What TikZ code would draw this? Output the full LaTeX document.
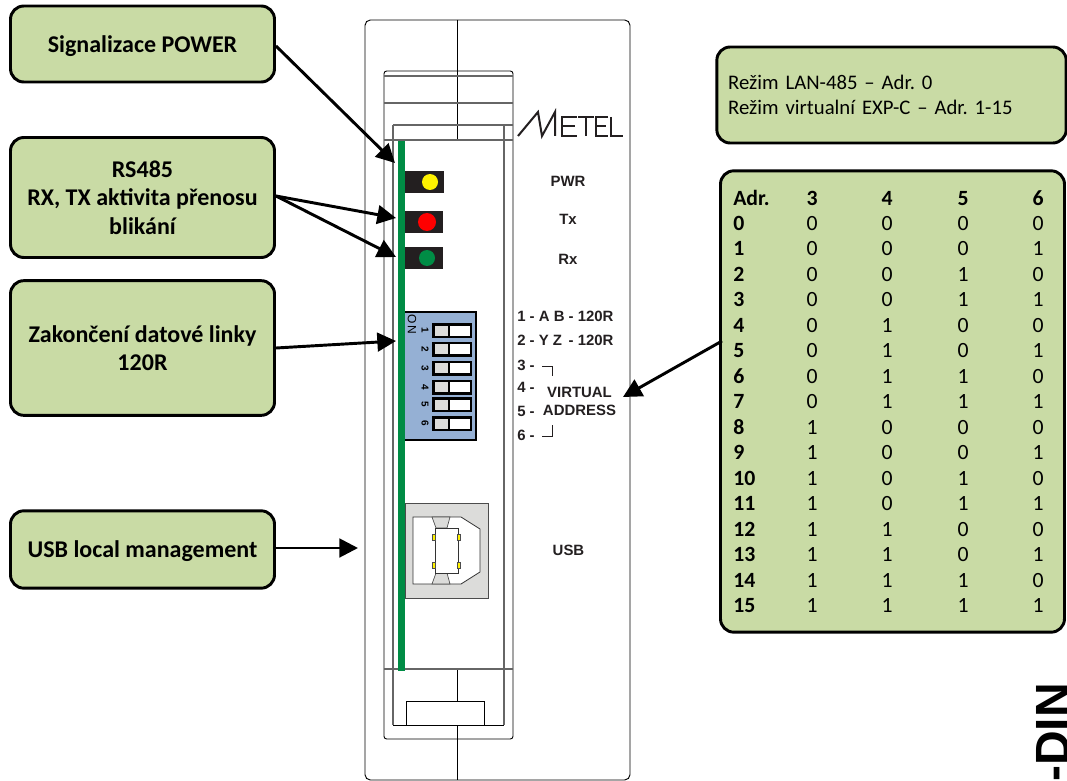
\documentclass[tikz,border=0pt]{standalone}
\usepackage{fontspec}
\setmainfont[Numbers=Lining]{Carlito}
\newfontfamily\labelfont{Liberation Sans}
\usetikzlibrary{arrows.meta}
\definecolor{boxgreen}{RGB}{201,219,165}
\definecolor{pcbgreen}{RGB}{0,140,69}
\definecolor{dipblue}{RGB}{149,176,212}
\definecolor{usbgrey}{RGB}{220,220,218}
\definecolor{ledblack}{RGB}{35,31,32}
\frenchspacing
\tikzset{
    infobox/.style={draw=black,line width=2.2pt,fill=boxgreen,rounded corners=10pt,align=center,font=\fontsize{18}{21.5}\selectfont\bfseries,inner sep=0pt},
    pointer/.style={line width=2.2pt,-{Triangle[length=14pt,width=14pt]}},
    panel/.style={font=\labelfont\bfseries\fontsize{11.2}{13}\selectfont,text=ledblack,inner sep=0pt},
    cell/.style={font=\fontsize{16.3}{16.3}\selectfont,inner sep=0pt,anchor=base},
    headcell/.style={font=\fontsize{16.3}{16.3}\selectfont\bfseries,inner sep=0pt,anchor=base},
    thin line/.style={draw=black,line width=0.7pt},
    grey line/.style={draw=black!60,line width=0.9pt}
}
\begin{document}
\begin{tikzpicture}[x=0.75pt,y=-0.75pt]
\useasboundingbox (0,0) rectangle (1067,781);
% housing
\draw[thin line,rounded corners=4pt] (365,20) rectangle (630,780);
\draw[thin line] (457,20) -- (457,140);
\draw[thin line] (457,669) -- (457,780);
\draw[thin line,rounded corners=2pt] (384,71) rectangle (513,739);
\draw[grey line] (384,76) -- (513,76);
\draw[grey line] (384,103) -- (513,103);
\draw[grey line] (393,125) -- (513,125);
\draw[grey line] (384,140) -- (513,140);
\draw[grey line] (393,125) -- (393,725);
\draw[grey line] (504,125) -- (504,725);
\draw[grey line] (384,669) -- (513,669);
\draw[thin line] (393,725) -- (504,725);
\draw[thin line,fill=white] (406,701) rectangle (484,725);
% board
\fill[pcbgreen] (398,141) rectangle (405,671);
% leds
\fill[ledblack] (405,171) rectangle (444,193);
\fill[ledblack] (405,211) rectangle (443,233);
\fill[ledblack] (405,247) rectangle (443,269);
\fill[yellow] (430,182) circle (8);
\fill[red] (427,222) circle (9);
\fill[pcbgreen] (427,258) circle (8);
% logo
\draw[line width=1.5pt,ledblack] (518,136) -- (538,112) -- (542,136) -- (555,112) -- (555,136);
\draw[line width=1.5pt,ledblack] (577,117) -- (562,117) -- (562,136) -- (577,136) (562,126) -- (575,126);
\draw[line width=1.5pt,ledblack] (578,117) -- (594,117) (586,117) -- (586,136);
\draw[line width=1.5pt,ledblack] (608,117) -- (596,117) -- (596,136) -- (608,136) (596,126) -- (606,126);
\draw[line width=1.5pt,ledblack] (611,117) -- (611,136) -- (623,136);
% dip switch
\draw[draw=black,line width=1.3pt,fill=dipblue] (405,312) -- (476,312) -- (476,440) -- (405,440);
\node[font=\labelfont\fontsize{9}{9}\selectfont,rotate=-90,inner sep=0pt] (dipon) at (412,324) {O\,N};
\foreach \n/\yy in {1/330.5,2/349,3/368,4/387,5/404.5,6/423.5} {
    \fill[black] (432,\yy-7.5) rectangle (472,\yy+7.5);
    \fill[usbgrey] (435,\yy-5) rectangle (448,\yy+5);
    \fill[white] (450,\yy-5) rectangle (470,\yy+5);
    \node[font=\labelfont\bfseries\fontsize{7.5}{7.5}\selectfont,rotate=-90,inner sep=0pt] (dip\n) at (425,\yy) {\n};
}
% usb
\draw[draw=black!70,fill=usbgrey,line width=0.6pt] (405,503) rectangle (488,598);
\draw[draw=black!80,fill=white,line width=0.6pt] (413,517) -- (461,517) -- (480,529) -- (480,572) -- (461,584) -- (413,584) -- cycle;
\draw[draw=black!70,fill=usbgrey,line width=0.5pt] (432,517) -- (450,517) -- (447,528) -- (436,528) -- cycle;
\draw[draw=black!70,fill=usbgrey,line width=0.5pt] (436,573) -- (447,573) -- (450,584) -- (432,584) -- cycle;
\draw[draw=black!80,fill=white,line width=0.6pt] (435,528) rectangle (458,573);
\foreach \px/\py in {434/537,459/537,434/565,459/565} {
    \draw[draw=black!70,fill=yellow,line width=0.3pt] (\px-1.5,\py-3) rectangle (\px+1.5,\py+3);
}
% panel labels
\node[panel] (pwr) at (568,181) {PWR};
\node[panel] (tx) at (568,219) {Tx};
\node[panel] (rx) at (568,259) {Rx};
\node[panel,anchor=west] (sw1) at (517,316) {1 - A B - 120R};
\node[panel,anchor=west] (sw2) at (517,340) {2 - Y Z\, - 120R};
\node[panel,anchor=west] (sw3) at (517,365) {3 -};
\node[panel,anchor=west] (sw4) at (517,387) {4 -};
\node[panel,anchor=west] (sw5) at (517,411) {5 -};
\node[panel,anchor=west] (sw6) at (517,435) {6 -};
\node[panel] (virtual) at (579.5,392) {VIRTUAL};
\node[panel] (address) at (579.5,410) {ADDRESS};
\node[panel] (usb) at (568.5,550) {USB};
\draw[ledblack,line width=0.5pt] (542,366) -- (552,366) -- (552,376);
\draw[ledblack,line width=0.5pt] (542,436) -- (552,436) -- (552,425);
% callouts
\node[infobox,text height=16pt,minimum width=198pt,minimum height=57pt] (power) at (142.5,44) {Signalizace POWER};
\node[infobox,minimum width=198pt,minimum height=90pt] (rs) at (142.5,197.5) {RS485\\RX, TX aktivita přenosu\\blikání};
\node[infobox,minimum width=198pt,minimum height=101pt] (term) at (142.5,348) {Zakončení datové linky\\120R};
\node[infobox,text height=15.5pt,minimum width=198pt,minimum height=58pt] (usbm) at (142.5,549.5) {USB local management};
\coordinate (pwrtip) at (395,163);
\coordinate (txtip) at (396,218);
\coordinate (rxtip) at (396,257);
\coordinate (termtip) at (396,341);
\coordinate (usbtip) at (358,548);
\coordinate (pwrtail) at (276,46);
\coordinate (rstail) at (276,196);
\coordinate (termtail) at (276,348);
\coordinate (usbtail) at (276,548);
\draw[pointer] (pwrtail) -- (pwrtip);
\draw[pointer] (rstail) -- (txtip);
\draw[pointer] (rstail) -- (rxtip);
\draw[pointer] (termtail) -- (termtip);
\draw[pointer] (usbtail) -- (usbtip);
% mode box
\node[infobox,minimum width=262pt,minimum height=72pt,font=\fontsize{15.55}{19}\selectfont,align=left,text width=245pt] (mode) at (891.5,95) {Režim LAN-485 – Adr. 0\\Režim virtualní EXP-C – Adr. 1-15};
% table
\node[infobox,minimum width=258pt,minimum height=346pt] (tablebox) at (892.5,401.5) {};
\coordinate (tabletail) at (722,341);
\coordinate (tabletip) at (623,397);
\draw[pointer] (tabletail) -- (tabletip);
\node[headcell,anchor=base west] (hadr) at (733,205) {Adr.};
\foreach \c/\xx in {3/812,4/887,5/963,6/1038} {
    \node[headcell] (h\c) at (\xx,205) {\c};
}
\foreach \r/\a/\b/\c/\d [count=\i from 0] in {0/0/0/0/0,1/0/0/0/1,2/0/0/1/0,3/0/0/1/1,4/0/1/0/0,5/0/1/0/1,6/0/1/1/0,7/0/1/1/1,8/1/0/0/0,9/1/0/0/1,10/1/0/1/0,11/1/0/1/1,12/1/1/0/0,13/1/1/0/1,14/1/1/1/0,15/1/1/1/1} {
    \pgfmathsetmacro\yy{230+25.53*\i}
    \node[headcell,anchor=base west] (r\i) at (733,\yy) {\r};
    \node[cell] (a\i) at (812,\yy) {\a};
    \node[cell] (b\i) at (887,\yy) {\b};
    \node[cell] (c\i) at (963,\yy) {\c};
    \node[cell] (d\i) at (1038,\yy) {\d};
}
% cut off title
\node[font=\labelfont\bfseries\fontsize{36}{36}\selectfont,rotate=90,anchor=base east,inner sep=0pt] (din) at (1069,683) {-DIN};
\end{tikzpicture}
\end{document}
